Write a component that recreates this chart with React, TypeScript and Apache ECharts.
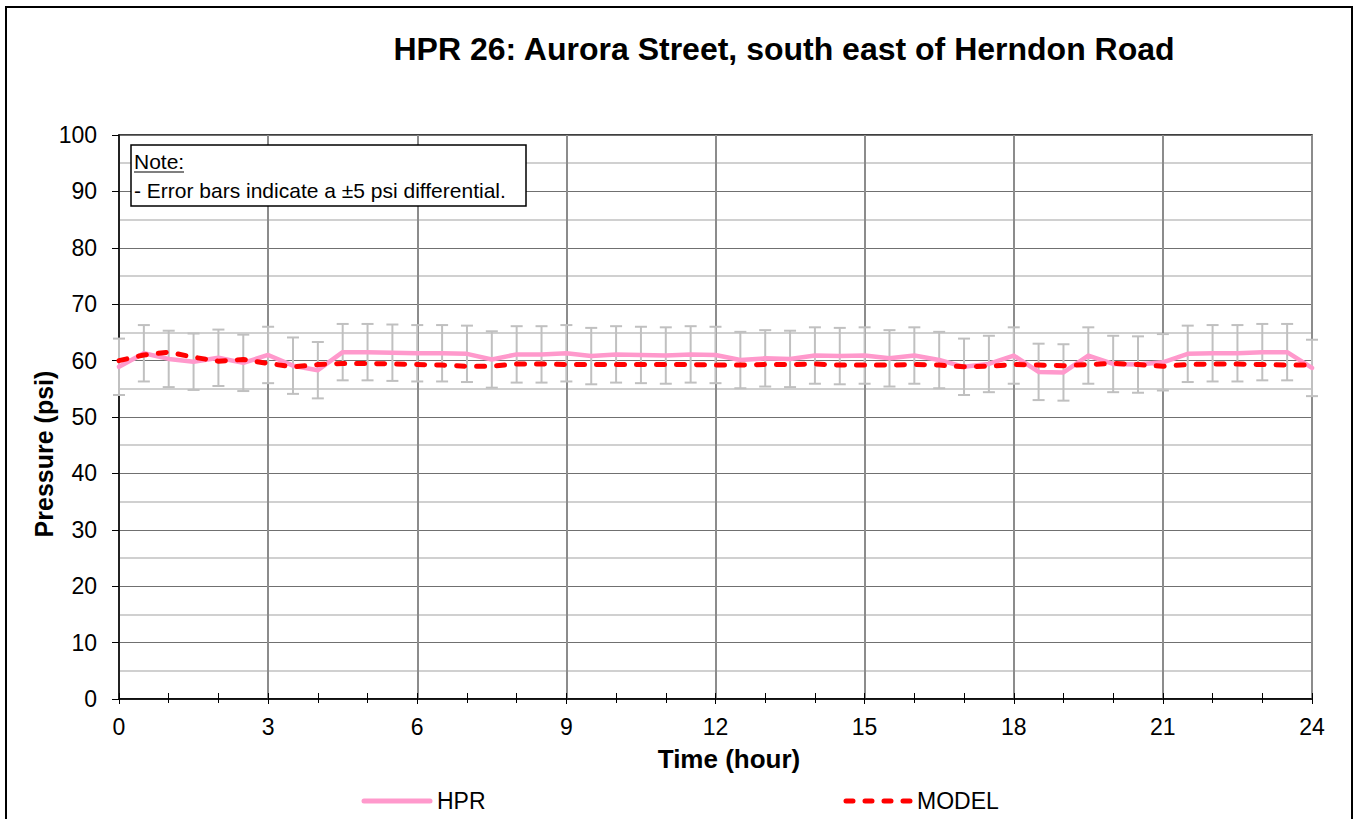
import React, { useEffect, useRef } from "react";
import * as echarts from "echarts";

const TIMES = [0, 0.5, 1, 1.5, 2, 2.5, 3, 3.5, 4, 4.5, 5, 5.5, 6, 6.5, 7, 7.5, 8, 8.5, 9, 9.5, 10, 10.5, 11, 11.5, 12, 12.5, 13, 13.5, 14, 14.5, 15, 15.5, 16, 16.5, 17, 17.5, 18, 18.5, 19, 19.5, 20, 20.5, 21, 21.5, 22, 22.5, 23, 23.5, 24];
const HPR = [58.9, 61.3, 60.3, 59.8, 60.5, 59.6, 61.0, 59.1, 58.3, 61.5, 61.5, 61.4, 61.3, 61.3, 61.2, 60.2, 61.1, 61.1, 61.3, 60.8, 61.1, 61.0, 60.9, 61.1, 61.0, 60.1, 60.4, 60.3, 60.9, 60.8, 60.9, 60.4, 60.9, 60.1, 58.9, 59.4, 60.9, 58.0, 57.9, 60.9, 59.4, 59.3, 59.7, 61.2, 61.3, 61.3, 61.5, 61.5, 58.7];
const MODEL = [60.0, 61.0, 61.5, 60.6, 59.9, 60.2, 59.5, 58.9, 59.3, 59.5, 59.5, 59.4, 59.3, 59.2, 59.0, 59.0, 59.4, 59.4, 59.3, 59.3, 59.3, 59.3, 59.3, 59.3, 59.2, 59.2, 59.3, 59.3, 59.4, 59.2, 59.2, 59.2, 59.3, 59.2, 58.9, 59.0, 59.3, 59.2, 59.1, 59.3, 59.5, 59.3, 59.0, 59.3, 59.4, 59.4, 59.3, 59.2, 59.2];
const ERROR_PSI = 5;

const TITLE = "HPR 26: Aurora Street, south east of Herndon Road";
const X_NAME = "Time (hour)";
const Y_NAME = "Pressure (psi)";
const NOTE_HEAD = "Note:";
const NOTE_BODY = "- Error bars indicate a \u00b15 psi differential.";
const LEGEND_NAMES = ["HPR", "MODEL"];

const FONT = '"Liberation Sans", Arial, Helvetica, sans-serif';
const HPR_COLOR = "#ff99cc";
const MODEL_COLOR = "#ff0000";

export default function App() {
  const ref = useRef<HTMLDivElement>(null);

  useEffect(() => {
    if (!ref.current) return;
    const chart = echarts.init(ref.current, null, { renderer: "svg" });

    const hprData = TIMES.map((t, i) => [t, HPR[i]]);
    const modelData = TIMES.map((t, i) => [t, MODEL[i]]);
    const errData = TIMES.map((t, i) => [t, HPR[i] - ERROR_PSI, HPR[i] + ERROR_PSI]);

    const errStyle = { stroke: "#c0c0c0", lineWidth: 2 };

    const option: any = {
      animation: false,
      backgroundColor: "#ffffff",
      textStyle: { fontFamily: FONT },
      grid: {
        left: 119,
        top: 135,
        right: 43,
        bottom: 120,
        show: true,
        borderColor: "#000",
        borderWidth: 1.5,
        backgroundColor: "transparent",
      },
      xAxis: [
        {
          type: "value",
          min: 0,
          max: 24,
          interval: 3,
          position: "bottom",
          axisLine: { show: true, lineStyle: { color: "#000", width: 1.5 } },
          axisTick: { show: true, length: 5, lineStyle: { color: "#000", width: 1 } },
          minorTick: { show: true, splitNumber: 3, length: 4, lineStyle: { color: "#000", width: 1 } },
          axisLabel: { margin: 16, fontSize: 23, color: "#000", fontFamily: FONT },
          splitLine: { show: true, lineStyle: { color: "#8c8c8c", width: 2 } },
        },
        {
          type: "value",
          min: 0,
          max: 24,
          interval: 1,
          position: "bottom",
          axisLine: { show: false },
          axisTick: { show: true, inside: true, length: 6, lineStyle: { color: "#000", width: 1 } },
          axisLabel: { show: false },
          splitLine: { show: false },
        },
      ],
      yAxis: {
        type: "value",
        min: 0,
        max: 100,
        interval: 10,
        axisLine: { show: true, lineStyle: { color: "#000", width: 1.5 } },
        axisTick: { show: true, length: 7, lineStyle: { color: "#000", width: 1 } },
        axisLabel: { margin: 22, fontSize: 23, color: "#000", fontFamily: FONT },
        splitLine: { show: true, lineStyle: { color: "#707070", width: 1 } },
        minorTick: { show: false, splitNumber: 2 },
        minorSplitLine: { show: true, lineStyle: { color: "#c0c0c0", width: 1.5 } },
      },
      series: [
        {
          type: "custom",
          name: "Error",
          xAxisIndex: 0,
          yAxisIndex: 0,
          z: 2,
          silent: true,
          encode: { x: 0, y: [1, 2] },
          data: errData,
          renderItem: (params: any, api: any) => {
            const x = api.value(0);
            const lo = api.value(1);
            const hi = api.value(2);
            const top = api.coord([x, hi]);
            const bot = api.coord([x, lo]);
            const hw = 6;
            return {
              type: "group",
              children: [
                { type: "line", shape: { x1: top[0], y1: top[1], x2: bot[0], y2: bot[1] }, style: errStyle },
                { type: "line", shape: { x1: top[0] - hw, y1: top[1], x2: top[0] + hw, y2: top[1] }, style: errStyle },
                { type: "line", shape: { x1: bot[0] - hw, y1: bot[1], x2: bot[0] + hw, y2: bot[1] }, style: errStyle },
              ],
            };
          },
        },
        {
          type: "line",
          name: LEGEND_NAMES[0],
          xAxisIndex: 0,
          yAxisIndex: 0,
          z: 3,
          data: hprData,
          symbol: "none",
          showSymbol: false,
          lineStyle: { color: HPR_COLOR, width: 4.5, cap: "round", join: "round" },
          itemStyle: { color: HPR_COLOR },
        },
        {
          type: "line",
          name: LEGEND_NAMES[1],
          xAxisIndex: 0,
          yAxisIndex: 0,
          z: 4,
          data: modelData,
          symbol: "none",
          showSymbol: false,
          lineStyle: { color: MODEL_COLOR, width: 5, type: [8, 12], cap: "round", join: "round" },
          itemStyle: { color: MODEL_COLOR },
        },
      ],
      graphic: [
        {
          type: "rect",
          z: 0,
          silent: true,
          shape: { x: 6, y: 7, width: 1346, height: 830 },
          style: { fill: "none", stroke: "#000", lineWidth: 2 },
        },
        {
          type: "text",
          x: 784,
          y: 49,
          z: 10,
          style: {
            text: TITLE,
            font: `bold 32px ${FONT}`,
            fill: "#000",
            textAlign: "center",
            textVerticalAlign: "middle",
          },
        },
        {
          type: "text",
          x: 729,
          y: 759,
          z: 10,
          style: {
            text: X_NAME,
            font: `bold 26px ${FONT}`,
            fill: "#000",
            textAlign: "center",
            textVerticalAlign: "middle",
          },
        },
        {
          type: "text",
          x: 44,
          y: 454,
          rotation: Math.PI / 2,
          z: 10,
          style: {
            text: Y_NAME,
            font: `bold 25px ${FONT}`,
            fill: "#000",
            textAlign: "center",
            textVerticalAlign: "middle",
          },
        },
        // legend
        {
          type: "line",
          z: 10,
          shape: { x1: 364, y1: 801, x2: 430, y2: 801 },
          style: { stroke: HPR_COLOR, lineWidth: 5, lineCap: "round" },
        },
        {
          type: "text",
          x: 437,
          y: 801,
          z: 10,
          style: { text: LEGEND_NAMES[0], font: `23px ${FONT}`, fill: "#000", textVerticalAlign: "middle" },
        },
        {
          type: "line",
          z: 10,
          shape: { x1: 846, y1: 801, x2: 910, y2: 801 },
          style: { stroke: MODEL_COLOR, lineWidth: 5, lineCap: "round", lineDash: [7, 12] },
        },
        {
          type: "text",
          x: 917,
          y: 801,
          z: 10,
          style: { text: LEGEND_NAMES[1], font: `23px ${FONT}`, fill: "#000", textVerticalAlign: "middle" },
        },
        {
          type: "group",
          z: 100,
          children: [
            {
              type: "rect",
              z: 100,
              shape: { x: 131, y: 145, width: 395, height: 61 },
              style: { fill: "#fff", stroke: "#000", lineWidth: 1.5 },
            },
            {
              type: "text",
              z: 101,
              x: 134,
              y: 161,
              style: { text: NOTE_HEAD, font: `21px ${FONT}`, fill: "#000", textVerticalAlign: "middle" },
            },
            {
              type: "line",
              z: 101,
              shape: { x1: 134, y1: 172, x2: 184, y2: 172 },
              style: { stroke: "#000", lineWidth: 1.2 },
            },
            {
              type: "text",
              z: 101,
              x: 134,
              y: 190,
              style: { text: NOTE_BODY, font: `21px ${FONT}`, fill: "#000", textVerticalAlign: "middle" },
            },
          ],
        },
      ],
    };

    chart.setOption(option);
    return () => {
      chart.dispose();
    };
  }, []);

  return (
    <div
      ref={ref}
      style={{ position: "absolute", left: 0, top: 0, width: 1355, height: 819 }}
    />
  );
}
